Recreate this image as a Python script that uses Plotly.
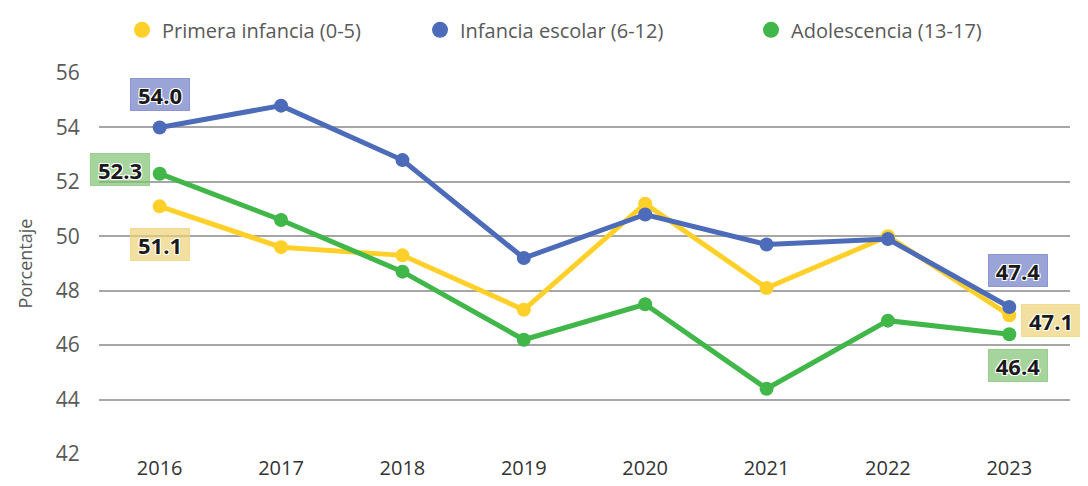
import plotly.graph_objects as go

years = ["2016", "2017", "2018", "2019", "2020", "2021", "2022", "2023"]
primera = [51.1, 49.6, 49.3, 47.3, 51.2, 48.1, 50.0, 47.1]
escolar = [54.0, 54.8, 52.8, 49.2, 50.8, 49.7, 49.9, 47.4]
adolesc = [52.3, 50.6, 48.7, 46.2, 47.5, 44.4, 46.9, 46.4]
names = ["Primera infancia (0-5)", "Infancia escolar (6-12)", "Adolescencia (13-17)"]
colors = ["#FFD02A", "#4C6BB8", "#41B649"]
label_bg = ["rgba(238,209,119,0.7)", "rgba(112,126,196,0.7)", "rgba(128,194,115,0.7)"]
y_ticks = [42, 44, 46, 48, 50, 52, 54, 56]

FONT = "Open Sans"
fig = go.Figure()
series = [primera, escolar, adolesc]
for vals, name, col in zip(series, names, colors):
    fig.add_trace(go.Scatter(x=years, y=vals, mode="lines+markers", name=name,
                             line=dict(color=col, width=5), marker=dict(color=col, size=14),
                             showlegend=False))
legend_ids = ["legend", "legend2", "legend3"]
legend_x = [0.0237, 0.3306, 0.6715]
for name, col, lid in zip(names, colors, legend_ids):
    fig.add_trace(go.Scatter(x=[None], y=[None], mode="markers", name=name, legend=lid,
                             marker=dict(color=col, size=20)))

SH = "1px 1px 0 #fff, -1px -1px 0 #fff, 1px -1px 0 #fff, -1px 1px 0 #fff"
def lab(idx, s, ax, ay):
    v = series[s][idx]
    fig.add_annotation(x=idx, y=v, xref="x", yref="y", text="<b>%.1f</b>" % v, showarrow=False,
                       xshift=ax, yshift=-ay, width=54, height=27,
                       font=dict(family=FONT, size=22, color="#1a1a1a", shadow=SH),
                       bgcolor=label_bg[s], bordercolor=label_bg[s], borderpad=2, borderwidth=1)

lab(0, 1, 0, -33)
lab(0, 0, 0, 38)
lab(0, 2, -40, -4)
lab(7, 1, 9, -37)
lab(7, 0, 42, 5)
lab(7, 2, 9, 31)

leg_common = dict(orientation="h", xanchor="left", yref="container", y=0.955, yanchor="middle",
                  font=dict(size=20, color="#595959"), bgcolor="rgba(0,0,0,0)")
fig.update_layout(
    width=1088, height=486,
    margin=dict(l=91, r=26, t=65, b=40, autoexpand=False),
    plot_bgcolor="white", paper_bgcolor="white",
    font=dict(family=FONT, color="#595959", size=18),
    legend=dict(x=legend_x[0], **leg_common),
    legend2=dict(x=legend_x[1], **leg_common),
    legend3=dict(x=legend_x[2], **leg_common),
    xaxis=dict(type="category", range=[-0.5, 7.5], showgrid=False, showline=False,
               ticks="", automargin=False, tickfont=dict(size=20, color="#333333")),
    yaxis=dict(range=[42, 56], tickvals=y_ticks, showgrid=True, gridcolor="#A6A6A6", gridwidth=2,
               zeroline=False, ticks="outside", ticklen=14, tickcolor="rgba(0,0,0,0)", automargin=False,
               title=dict(text="Porcentaje", font=dict(size=18, color="#595959"), standoff=18),
               tickfont=dict(size=21, color="#595959")),
)
fig.write_html("out.html")
